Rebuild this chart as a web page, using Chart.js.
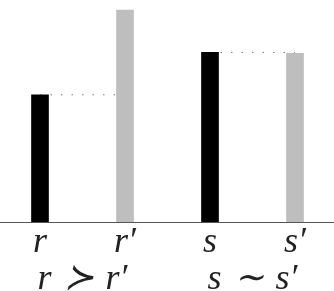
<!DOCTYPE html>
<html>
<head>
<meta charset="utf-8">
<script src="https://cdn.jsdelivr.net/npm/chart.js@4.4.1/dist/chart.umd.min.js"></script>
<style>
html, body { margin: 0; padding: 0; background: #fff; }
</style>
</head>
<body>
<canvas id="grafico" width="334" height="291"></canvas>
<script>
// categorias y alturas de las barras
var categorias = ['r', 'r′', 's', 's′'];
var alturas = [3, 5, 4, 3.98];
var colores = ['#000000', '#bebebe', '#000000', '#bebebe'];

// comparaciones debajo de cada pareja
var comparaciones = ['r\u2004≻\u2004r′', 's\u2004∼\u2004s′'];
// parejas unidas con la linea de puntos [desde, hasta]
var parejas = [[0, 1], [2, 3]];

var fuente = { family: 'Liberation Serif, serif', size: 36, style: 'italic' };

// barras
var datosBarras = categorias.map(function (c, i) {
    return { x: i, y: alturas[i] };
});

var datasets = [{
    type: 'bar',
    data: datosBarras,
    backgroundColor: colores,
    borderWidth: 0,
    barThickness: 17,
    order: 1
}];

// lineas de puntos al nivel de la primera barra de cada pareja
parejas.forEach(function (p) {
    datasets.push({
        type: 'line',
        data: [{ x: p[0], y: alturas[p[0]] }, { x: p[1], y: alturas[p[0]] }],
        borderColor: '#777777',
        borderWidth: 1,
        borderDash: [1.5, 9],
        pointRadius: 0,
        fill: false,
        order: 2
    });
});

new Chart(document.getElementById('grafico'), {
    type: 'bar',
    data: { datasets: datasets },
    options: {
        responsive: false,
        animation: false,
        layout: { padding: 0 },
        plugins: { legend: { display: false }, tooltip: { enabled: false } },
        scales: {
            x: {
                type: 'linear',
                position: 'bottom',
                offset: false,
                weight: 0,
                min: -0.4706,
                max: 3.4588,
                grid: { display: false, drawTicks: false },
                border: { display: true, color: '#555555', width: 1 },
                afterBuildTicks: function (axis) {
                    axis.ticks = categorias.map(function (c, i) { return { value: i }; });
                },
                afterFit: function (axis) { axis.height = 38; },
                ticks: {
                    padding: -1,
                    color: '#222222',
                    font: fuente,
                    maxRotation: 0,
                    autoSkip: false,
                    callback: function (v, i) { return categorias[i]; }
                }
            },
            x2: {
                type: 'linear',
                position: 'bottom',
                offset: false,
                weight: 1,
                min: -0.4706,
                max: 3.4588,
                grid: { display: false, drawTicks: false },
                border: { display: false },
                afterBuildTicks: function (axis) {
                    axis.ticks = parejas.map(function (p) { return { value: (p[0] + p[1]) / 2 }; });
                },
                afterFit: function (axis) { axis.height = 31; },
                ticks: {
                    padding: -2,
                    color: '#222222',
                    font: fuente,
                    maxRotation: 0,
                    autoSkip: false,
                    callback: function (v, i) { return comparaciones[i]; }
                }
            },
            y: {
                display: false,
                min: 0,
                max: 5.236
            }
        }
    }
});
</script>
</body>
</html>
